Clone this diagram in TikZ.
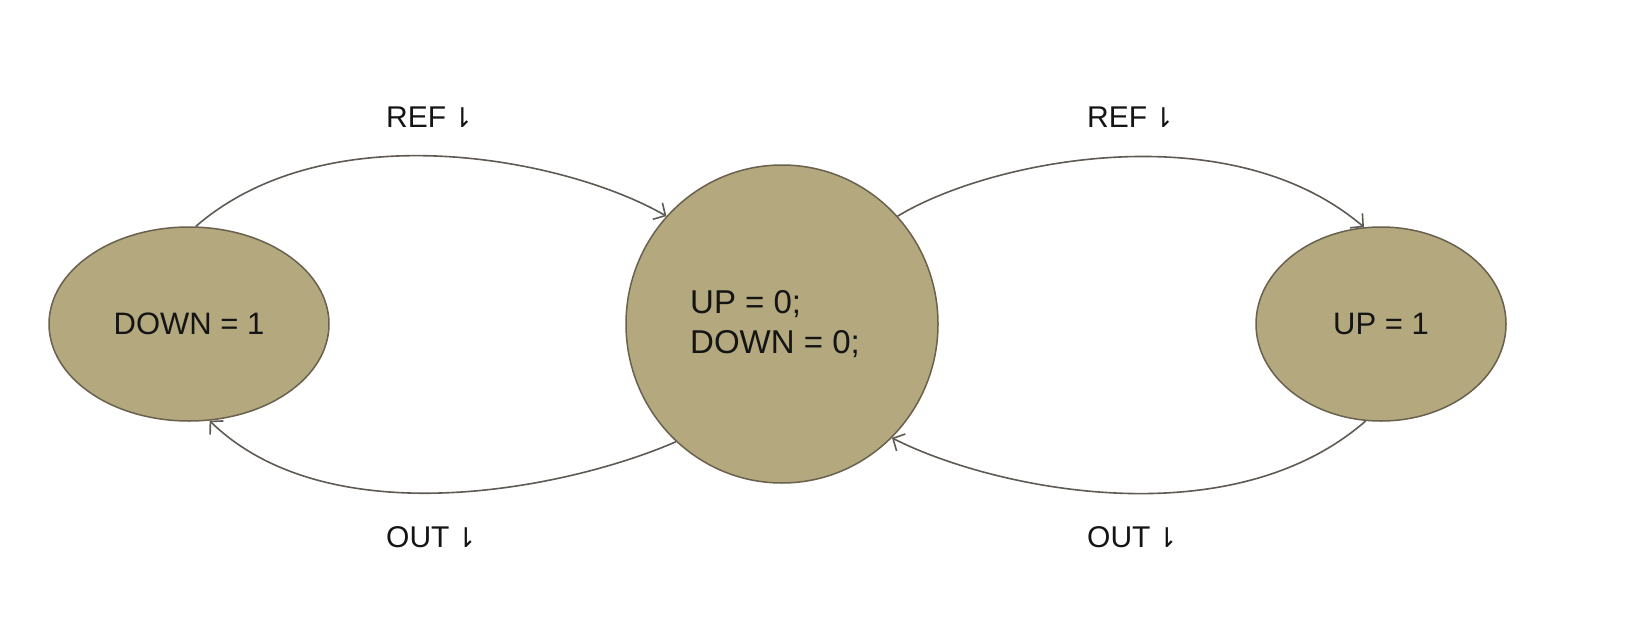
\documentclass[tikz,border=0pt]{standalone}
\usepackage{fontspec}
\setmainfont{Liberation Sans}
\newfontfamily\symfont{DejaVu Sans}
\usetikzlibrary{arrows.meta,shapes.geometric}
\definecolor{statefill}{RGB}{179,168,126}
\definecolor{stateline}{RGB}{105,96,78}
\definecolor{edgeline}{RGB}{95,90,84}
\definecolor{txt}{RGB}{20,20,20}
\newcommand{\harp}{\hspace{5pt}{\symfont\fontsize{27}{30}\selectfont ⇂}}
\tikzset{
  statenode/.style={ellipse, draw=stateline, fill=statefill, line width=1.5pt, inner sep=0pt},
  statetext/.style={text=txt, font=\fontsize{31}{36}\selectfont, inner sep=0pt},
  edgelabel/.style={text=txt, font=\fontsize{30}{36}\selectfont, inner sep=0pt, anchor=west},
  edge/.style={draw=edgeline, line width=1.6pt, -{Straight Barb[length=9pt,width=19pt,line width=1.6pt]}}
}
\begin{document}
\begin{tikzpicture}[x=1pt,y=-1pt]
\useasboundingbox[fill=white] (0,0) rectangle (1635,634);
% states
\node[statenode, minimum width=280pt, minimum height=194pt] (L) at (189,324) {};
\node[statenode, minimum width=312pt, minimum height=318pt] (C) at (782,324) {};
\node[statenode, minimum width=250pt, minimum height=194pt] (R) at (1381,324) {};
\node[statetext] (Lt) at (L) {DOWN = 1};
\node[statetext] (Rt) at (R) {UP = 1};
\node[statetext, font=\fontsize{33}{40}\selectfont, align=left] (Ct) at (775,324) {UP = 0;\\DOWN = 0;};
% edges
\draw[edge] (L.86) .. controls (330,110) and (570,160) .. (C.137);
\draw[edge] (C.43) .. controls (990,160) and (1229,112) .. (R.100);
\draw[edge] (R.261) .. controls (1229,540) and (990,488) .. (C.314);
\draw[edge] (C.228) .. controls (570,488) and (330,538) .. (L.-78);
% labels
\node[edgelabel] (l1) at (386,117) {REF\harp};
\node[edgelabel] (l2) at (1087,117) {REF\harp};
\node[edgelabel] (l3) at (386,537) {OUT\harp};
\node[edgelabel] (l4) at (1087,537) {OUT\harp};
\end{tikzpicture}
\end{document}
